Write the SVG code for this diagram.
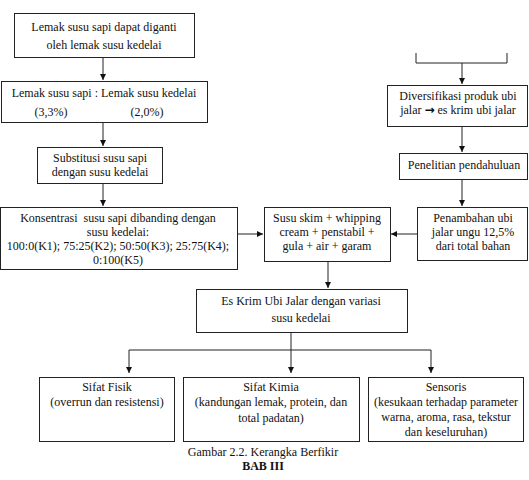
<svg xmlns="http://www.w3.org/2000/svg" width="529" height="480" viewBox="0 0 529 480">
<style>
.box{fill:#fff;stroke:#222;stroke-width:1}
.ln{fill:none;stroke:#222;stroke-width:1}
text{font-family:"Liberation Serif","Times New Roman",serif;font-size:12px;fill:#111;text-anchor:middle}
.b{font-weight:bold}
.sym{font-family:"DejaVu Sans",sans-serif;font-size:12px;font-weight:bold}
</style>
<defs>
<marker id="ah" markerWidth="7" markerHeight="7" refX="6" refY="3.5" orient="auto" markerUnits="userSpaceOnUse">
<path d="M0,0.5 L6,3.5 L0,6.5 Z" fill="#111"/>
</marker>
</defs>
<rect width="529" height="480" fill="#fff"/>
<g id="connectors">
<line class="ln" x1="103" y1="57" x2="103" y2="80" marker-end="url(#ah)"/>
<line class="ln" x1="103" y1="122" x2="103" y2="146" marker-end="url(#ah)"/>
<line class="ln" x1="103" y1="183" x2="103" y2="206" marker-end="url(#ah)"/>
<line class="ln" x1="237" y1="234" x2="263" y2="234" marker-end="url(#ah)"/>
<path class="ln" d="M416,53 V63 H507 V53"/>
<line class="ln" x1="462" y1="63" x2="462" y2="84" marker-end="url(#ah)"/>
<line class="ln" x1="462" y1="126" x2="462" y2="152" marker-end="url(#ah)"/>
<line class="ln" x1="462" y1="179" x2="462" y2="206" marker-end="url(#ah)"/>
<line class="ln" x1="417" y1="234" x2="391" y2="234" marker-end="url(#ah)"/>
<line class="ln" x1="328" y1="261" x2="328" y2="288" marker-end="url(#ah)"/>
<path class="ln" d="M291,332 V350 M129,350 H431"/>
<line class="ln" x1="129" y1="350" x2="129" y2="373" marker-end="url(#ah)"/>
<line class="ln" x1="291" y1="350" x2="291" y2="373" marker-end="url(#ah)"/>
<line class="ln" x1="431" y1="350" x2="431" y2="373" marker-end="url(#ah)"/>
</g>
<g id="n1">
<rect class="box" x="14.5" y="13.5" width="180" height="44"/>
<text x="104" y="31">Lemak susu sapi dapat diganti</text>
<text x="104" y="49">oleh lemak susu kedelai</text>
</g>
<g id="n2">
<rect class="box" x="1.5" y="81.5" width="206" height="41"/>
<text x="104" y="97">Lemak susu sapi : Lemak susu kedelai</text>
<text x="51" y="116">(3,3%)</text>
<text x="147" y="116">(2,0%)</text>
</g>
<g id="n3">
<rect class="box" x="37.5" y="147.5" width="125" height="36"/>
<text x="100" y="162">Substitusi susu sapi</text>
<text x="100" y="176">dengan susu kedelai</text>
</g>
<g id="n4">
<rect class="box" x="0.5" y="207.5" width="237" height="62"/>
<text x="118" y="222" xml:space="preserve">Konsentrasi  susu sapi dibanding dengan</text>
<text x="118" y="236">susu kedelai:</text>
<text x="118" y="250">100:0(K1); 75:25(K2); 50:50(K3); 25:75(K4);</text>
<text x="118" y="264">0:100(K5)</text>
</g>
<g id="n5">
<rect class="box" x="387.5" y="85.5" width="140" height="41"/>
<text x="458" y="100">Diversifikasi produk ubi</text>
<text x="458" y="114">jalar <tspan class="sym">→</tspan> es krim ubi jalar</text>
</g>
<g id="n6">
<rect class="box" x="399.5" y="153.5" width="128" height="26"/>
<text x="464" y="169">Penelitian pendahuluan</text>
</g>
<g id="n7">
<rect class="box" x="417.5" y="207.5" width="110" height="53"/>
<text x="473" y="222">Penambahan ubi</text>
<text x="473" y="236">jalar ungu 12,5%</text>
<text x="473" y="250">dari total bahan</text>
</g>
<g id="n8">
<rect class="box" x="264.5" y="207.5" width="126" height="54"/>
<text x="327" y="222">Susu skim + whipping</text>
<text x="327" y="236">cream + penstabil +</text>
<text x="327" y="250">gula + air + garam</text>
</g>
<g id="n9">
<rect class="box" x="196.5" y="289.5" width="211" height="43"/>
<text x="301" y="305">Es Krim Ubi Jalar dengan variasi</text>
<text x="301" y="322">susu kedelai</text>
</g>
<g id="n10">
<rect class="box" x="39.5" y="377.5" width="135" height="64"/>
<text x="107" y="391">Sifat Fisik</text>
<text x="107" y="406">(overrun dan resistensi)</text>
</g>
<g id="n11">
<rect class="box" x="183.5" y="377.5" width="176" height="64"/>
<text x="271" y="391">Sifat Kimia</text>
<text x="271" y="406">(kandungan lemak, protein, dan</text>
<text x="271" y="422">total padatan)</text>
</g>
<g id="n12">
<rect class="box" x="368.5" y="377.5" width="155" height="64"/>
<text x="446" y="391">Sensoris</text>
<text x="446" y="406">(kesukaan terhadap parameter</text>
<text x="446" y="421">warna, aroma, rasa, tekstur</text>
<text x="446" y="436">dan keseluruhan)</text>
</g>
<g id="caption">
<text x="263" y="456">Gambar 2.2. Kerangka Berfikir</text>
<text class="b" x="263" y="470">BAB III</text>
</g>
</svg>
